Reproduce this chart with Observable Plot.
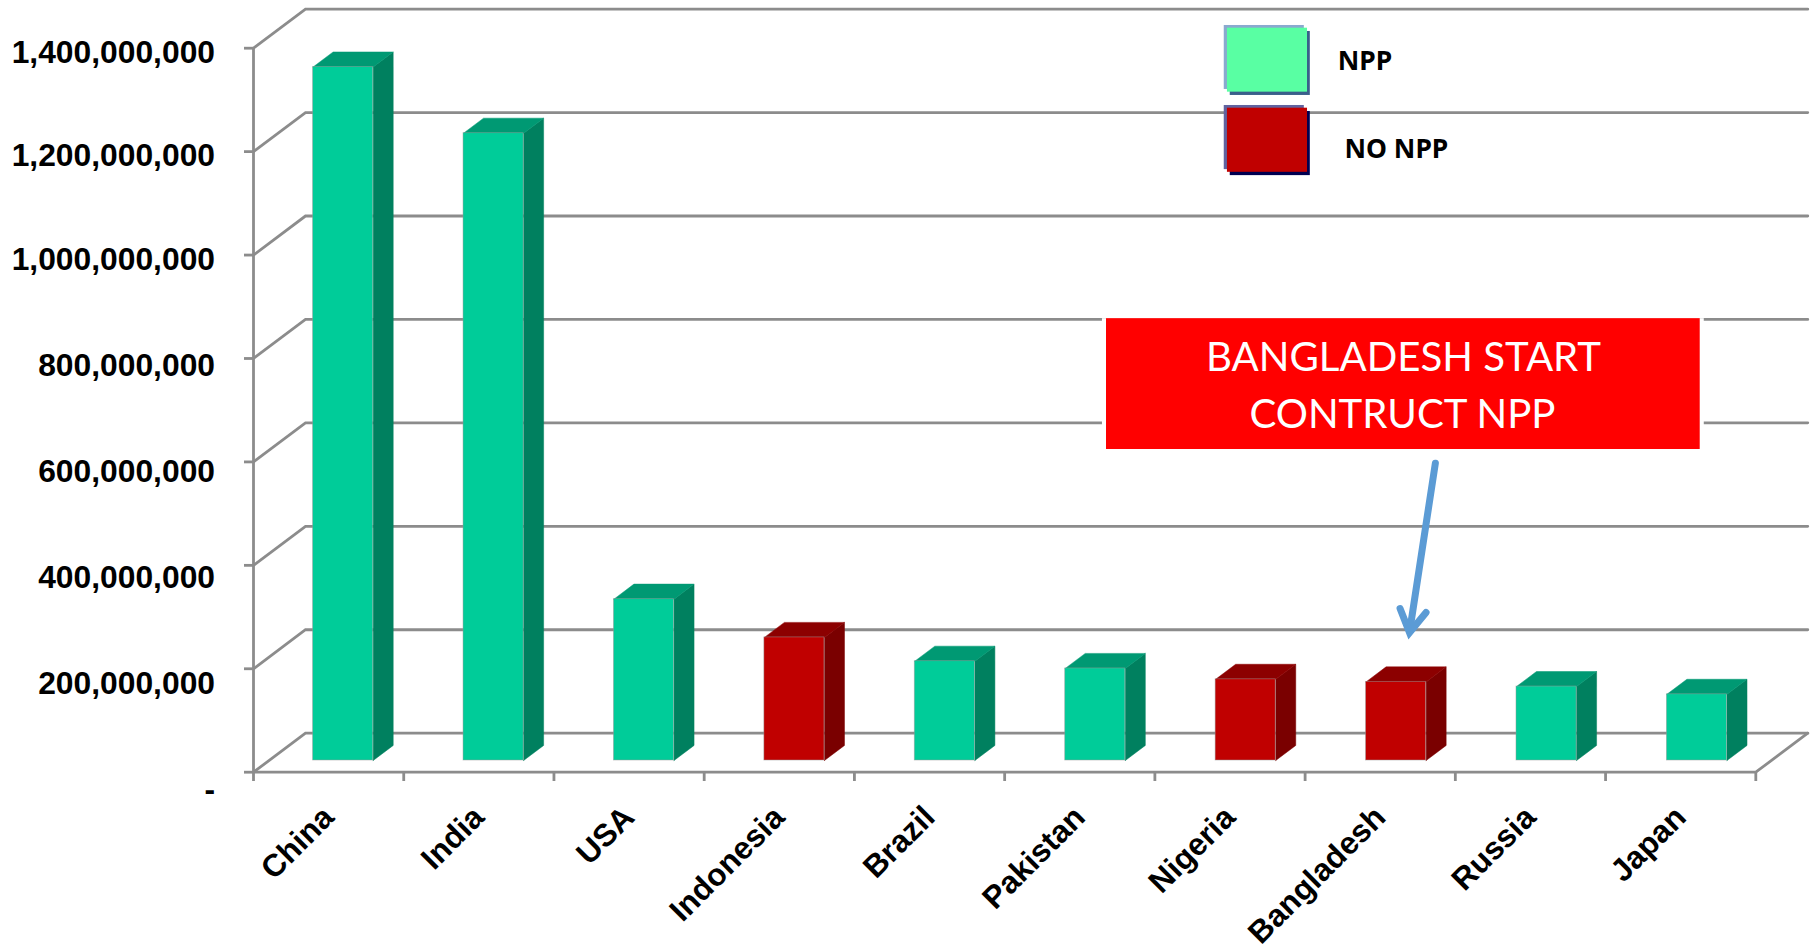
<!DOCTYPE html>
<html>
<head>
<meta charset="utf-8">
<style>
  html, body { margin: 0; padding: 0; background: #fff; }
  svg { display: block; }
</style>
<script src="https://cdn.jsdelivr.net/npm/d3@7"></script>
<script src="https://cdn.jsdelivr.net/npm/@observablehq/plot@0.6"></script>
</head>
<body>
<div id="chart"></div>
<script>
// Population of the ten most populous countries, and whether each runs nuclear power plants.
const countries = ["China", "India", "USA", "Indonesia", "Brazil", "Pakistan", "Nigeria", "Bangladesh", "Russia", "Japan"];
const population = [1341000000, 1213000000, 312000000, 238000000, 192000000, 178000000, 157000000, 152000000, 143000000, 128000000];
const hasNpp = [true, true, true, false, true, true, false, false, true, true];
const yTicks = [0, 200000000, 400000000, 600000000, 800000000, 1000000000, 1200000000, 1400000000];
// The tick labels sit a little below their ticks, by an uneven amount.
const yLabelDrop = [33800000, 29400000, 24400000, 19000000, 14900000, 9500000, 7900000, 8700000];

// Oblique projection of the chart box: depth 0 is the front edge, depth 1 the back wall.
const DEPTH_X = 0.346;       // category widths per unit of depth
const DEPTH_Y = 75500000;    // people per unit of depth
const project = (x, v, d) => ({x: x + d * DEPTH_X, y: v + d * DEPTH_Y});

// Each bar is a box standing on the floor, centred in its category.
const BAR_LEFT = 0.293, BAR_STEP = 1.00128, BAR_WIDTH = 0.4, BAR_FRONT = 0.3, BAR_BACK = 0.685;
const shades = {
  npp: {front: "#00cc99", side: "#00805f", top: "#009973"},
  none: {front: "#c00000", side: "#7a0000", top: "#8c0000"}
};

const bars = countries.map((name, i) => {
  const left = i * BAR_STEP + BAR_LEFT, right = left + BAR_WIDTH;
  return {name, slot: i, left, right, value: population[i], shade: hasNpp[i] ? shades.npp : shades.none};
});

const polygons = [];
for (const b of bars) {
  const side = [[b.right, 0, BAR_FRONT], [b.right, b.value, BAR_FRONT], [b.right, b.value, BAR_BACK], [b.right, 0, BAR_BACK]];
  const top = [[b.left, b.value, BAR_FRONT], [b.left, b.value, BAR_BACK], [b.right, b.value, BAR_BACK], [b.right, b.value, BAR_FRONT]];
  for (const [face, corners, fill] of [["side", side, b.shade.side], ["top", top, b.shade.top]]) {
    for (const c of [...corners, corners[0]]) {
      polygons.push({...project(...c), id: b.name + face, fill});
    }
  }
}

// Wall lines: out along the left wall, then across the back.
const gridLines = yTicks.flatMap(v => [
  {...project(0, v, 0), v},
  {...project(0, v, 1), v},
  {...project(countries.length, v, 1), v}
]);
const floorEdge = [project(countries.length, 0, 1), project(countries.length, 0, 0), project(0, 0, 0)];

const yLabels = yTicks.map((v, i) => ({y: v - yLabelDrop[i], text: v === 0 ? "-" : d3.format(",")(v)}));

const boldSans = "Liberation Sans, Arial, sans-serif";
const calloutFont = "Lato, Noto Sans, sans-serif";
const legendFont = "Noto Sans, sans-serif";
const GRID = "#8c8c8c", ARROW = "#5b9bd5";

// Legend swatches, each with a pale outline behind it and a dark shadow.
const legendEntries = [
  {label: "NPP", labelX: 7.217, labelY: 1374000000, y1: 1315000000, y2: 1438700000, fill: "#59ffa3", edge: "#8aa9cf", shadow: "#3a5f8a"},
  {label: "NO NPP", labelX: 7.262, labelY: 1204000000, y1: 1160000000, y2: 1284000000, fill: "#c00000", edge: "#6063a0", shadow: "#000050"}
];
const swatch = {x1: 6.483, x2: 7.016};

// Callout naming the Bangladesh decision.
const callout = {x1: 5.678, x2: 9.63, y1: 624000000, y2: 877000000};
const calloutLines = [
  {text: "BANGLADESH START", x: 7.655, y: 800000000},
  {text: "CONTRUCT NPP", x: 7.648, y: 690000000}
];
const arrowShaft = [{x: 7.867, y: 597500000}, {x: 7.70, y: 280000000}];
const arrowHead = [{x: 7.632, y: 316500000}, {x: 7.695, y: 270000000}, {x: 7.805, y: 308800000}];

const chart = Plot.plot({
  width: 1813,
  height: 948,
  marginLeft: 253,
  marginRight: 57.7,
  marginTop: 47.7,
  marginBottom: 176.3,
  style: {background: "#fff", overflow: "visible"},
  x: {domain: [0, countries.length], axis: null},
  y: {domain: [0, 1400000000], axis: null},
  color: {type: "identity"},
  marks: [
    Plot.line(gridLines, {x: "x", y: "y", z: "v", stroke: GRID, strokeWidth: 2.8, strokeLinejoin: "miter", strokeMiterlimit: 4}),
    Plot.line(floorEdge, {x: "x", y: "y", stroke: GRID, strokeWidth: 2.8, strokeLinejoin: "miter", strokeMiterlimit: 4}),
    Plot.ruleX([0], {y1: 0, y2: 1400000000, stroke: GRID, strokeWidth: 2.8}),
    Plot.ruleY(yTicks, {x1: -0.06, x2: 0, stroke: GRID, strokeWidth: 2.8}),
    Plot.ruleX(d3.range(countries.length + 1), {y1: -18000000, y2: 0, stroke: GRID, strokeWidth: 2.8}),

    Plot.line(polygons, {x: "x", y: "y", z: "id", fill: "fill", stroke: "fill", strokeWidth: 0.5}),
    Plot.rect(bars, {
      x1: d => project(d.left, 0, BAR_FRONT).x,
      x2: d => project(d.right, 0, BAR_FRONT).x,
      y1: () => project(0, 0, BAR_FRONT).y,
      y2: d => project(0, d.value, BAR_FRONT).y,
      fill: d => d.shade.front,
      stroke: "#9a9a9a",
      strokeOpacity: 0.6,
      strokeWidth: 0.8
    }),

    Plot.text(yLabels, {
      x: 0, y: "y", text: "text", dx: -38.5, textAnchor: "end", lineAnchor: "middle",
      fontFamily: boldSans, fontWeight: "bold", fontSize: 31.8, fill: "#000"
    }),
    Plot.text(bars, {
      x: d => d.slot + 0.5, y: () => -77000000, text: "name", rotate: -45,
      textAnchor: "end", lineAnchor: "middle",
      fontFamily: boldSans, fontWeight: "bold", fontSize: 31.5, fill: "#000"
    }),

    // Legend
    Plot.rect(legendEntries, {...swatch, y1: "y1", y2: "y2", fill: "edge", dx: -3.2, dy: -2.7}),
    Plot.rect(legendEntries, {...swatch, y1: "y1", y2: "y2", fill: "shadow", dx: 2.8, dy: 3.3}),
    Plot.rect(legendEntries, {...swatch, y1: "y1", y2: "y2", fill: "fill"}),
    Plot.text(legendEntries, {
      x: "labelX", y: "labelY", text: "label", textAnchor: "start", lineAnchor: "middle",
      fontFamily: legendFont, fontWeight: "bold", fontSize: 26.5, fill: "#000"
    }),

    // Callout and its arrow
    Plot.rect([callout], {x1: d => d.x1 - 0.027, x2: d => d.x2 + 0.027, y1: "y1", y2: "y2", fill: "#fff"}),
    Plot.rect([callout], {x1: "x1", x2: "x2", y1: "y1", y2: "y2", fill: "#ff0000"}),
    Plot.text(calloutLines, {
      x: "x", y: "y", text: "text", textAnchor: "middle", lineAnchor: "middle",
      fontFamily: calloutFont, fontSize: 40.2, fill: "#fff"
    }),
    Plot.line(arrowShaft, {x: "x", y: "y", stroke: ARROW, strokeWidth: 7}),
    Plot.line(arrowHead, {x: "x", y: "y", stroke: ARROW, strokeWidth: 7, strokeLinejoin: "miter", strokeMiterlimit: 4, strokeLinecap: "round"})
  ]
});

document.getElementById("chart").appendChild(chart);
</script>
</body>
</html>
